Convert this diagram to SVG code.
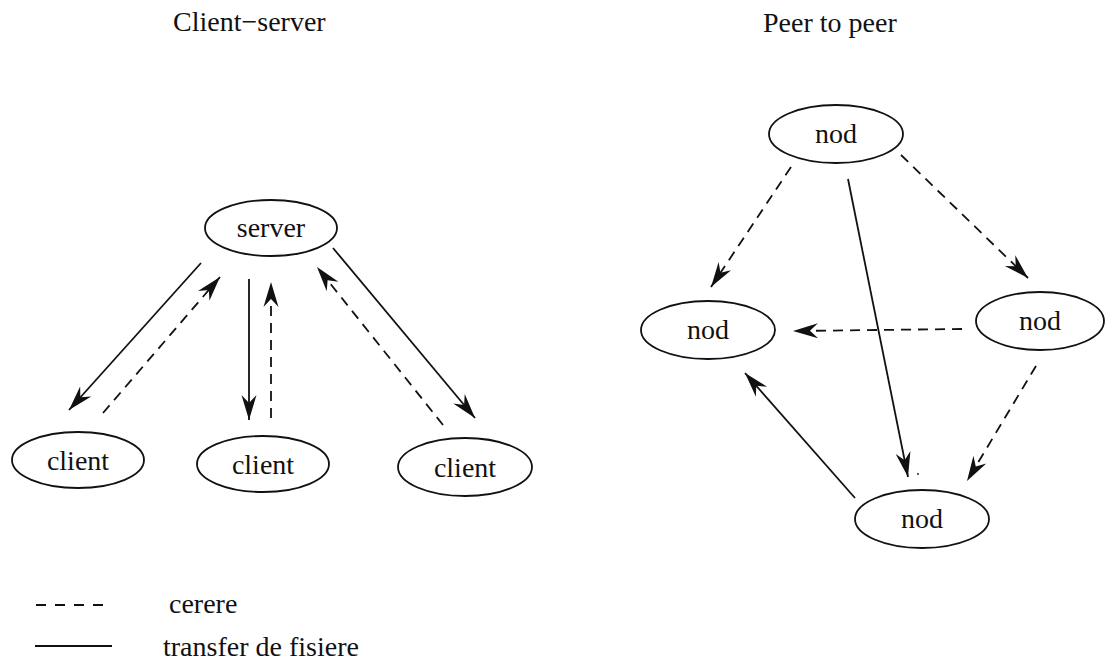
<svg xmlns="http://www.w3.org/2000/svg" width="1105" height="664" viewBox="0 0 1105 664" font-family="'Liberation Serif', 'DejaVu Serif', 'Times New Roman', serif">
  <style>
    text { font-family: "Liberation Serif", "DejaVu Serif", "Times New Roman", serif; font-size: 28px; fill: #111; }
    .node ellipse { fill: #fff; stroke: #111; stroke-width: 1.8; }
    .node text { text-anchor: middle; }
    .solid { fill: none; stroke: #111; stroke-width: 1.8; }
    .dash { fill: none; stroke: #111; stroke-width: 1.8; stroke-dasharray: 10 7; }
    .head { marker-end: url(#arrow); }
  </style>
  <defs>
    <!-- barbed, indented arrowhead -->
    <marker id="arrow" viewBox="-26 -9 27 18" refX="0" refY="0" markerWidth="27" markerHeight="18" markerUnits="userSpaceOnUse" orient="auto">
      <path d="M0,0 L-25,-7.5 L-17,0 L-25,7.5 Z" fill="#111"/>
    </marker>
  </defs>

  <rect width="1105" height="664" fill="#fff"/>

  <!-- section titles -->
  <text x="173" y="31">Client−server</text>
  <text x="763" y="32">Peer to peer</text>

  <!-- client-server nodes -->
  <g id="server" class="node">
    <ellipse cx="271" cy="228" rx="66" ry="28"/>
    <text x="271" y="237">server</text>
  </g>
  <g id="client1" class="node">
    <ellipse cx="78" cy="460" rx="66" ry="28"/>
    <text x="78" y="470">client</text>
  </g>
  <g id="client2" class="node">
    <ellipse cx="263" cy="464" rx="66" ry="28"/>
    <text x="263" y="474">client</text>
  </g>
  <g id="client3" class="node">
    <ellipse cx="465" cy="467" rx="67" ry="29"/>
    <text x="465" y="477">client</text>
  </g>

  <!-- peer-to-peer nodes -->
  <g id="nod-top" class="node">
    <ellipse cx="836" cy="134" rx="67" ry="29"/>
    <text x="836" y="143">nod</text>
  </g>
  <g id="nod-left" class="node">
    <ellipse cx="708" cy="330" rx="67" ry="29"/>
    <text x="708" y="339">nod</text>
  </g>
  <g id="nod-right" class="node">
    <ellipse cx="1040" cy="321" rx="64" ry="29"/>
    <text x="1040" y="330">nod</text>
  </g>
  <g id="nod-bottom" class="node">
    <ellipse cx="922" cy="519" rx="67" ry="29"/>
    <text x="922" y="528">nod</text>
  </g>

  <!-- connectors -->
  <g id="connectors">
    <!-- client-server: file transfers (solid) and requests (dashed) -->
    <line class="solid head" x1="201" y1="263" x2="69" y2="410"/>
    <line class="dash head" x1="103" y1="413" x2="220" y2="277"/>
    <line class="solid head" x1="249" y1="279" x2="249" y2="420"/>
    <line class="dash head" x1="271" y1="418" x2="271" y2="282"/>
    <line class="dash head" x1="443" y1="425" x2="317" y2="267"/>
    <line class="solid head" x1="333" y1="248" x2="475" y2="418"/>

    <!-- peer to peer -->
    <line class="dash head" x1="791" y1="167" x2="711" y2="287"/>
    <line class="solid head" x1="848" y1="179" x2="908" y2="477"/>
    <line class="dash head" x1="901" y1="155" x2="1028" y2="278"/>
    <line class="dash head" x1="962" y1="329" x2="793" y2="331"/>
    <line class="dash head" x1="1036" y1="366" x2="967" y2="481"/>
    <line class="solid head" x1="855" y1="498" x2="745" y2="373"/>
    <circle cx="918" cy="474" r="0.9" fill="#111"/>
  </g>

  <!-- legend -->
  <g id="legend">
    <line class="dash" x1="36" y1="605" x2="106" y2="605" style="stroke-dasharray: 10 9"/>
    <text x="169" y="613">cerere</text>
    <line class="solid" x1="35" y1="646" x2="112" y2="646"/>
    <text x="163" y="656">transfer de fisiere</text>
  </g>
</svg>
